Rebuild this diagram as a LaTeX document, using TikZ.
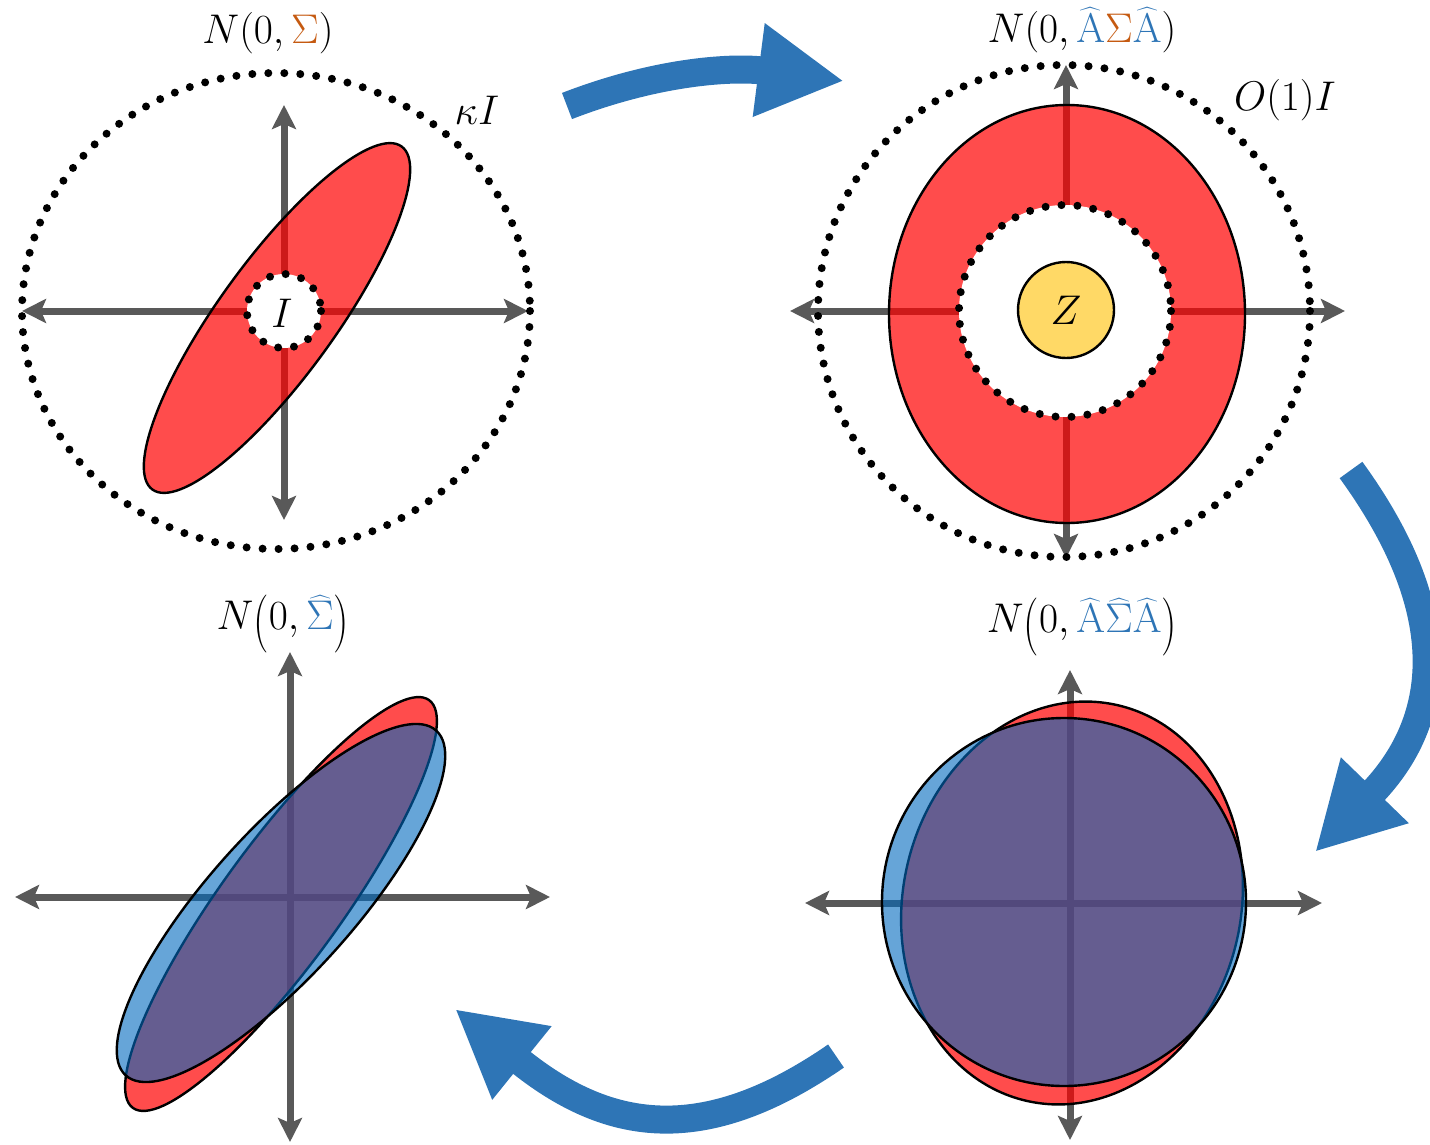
\documentclass[tikz,border=0pt]{standalone}
\usetikzlibrary{arrows.meta}
\definecolor{axisgray}{RGB}{89,89,89}
\definecolor{flowblue}{RGB}{46,117,182}
\definecolor{hatblue}{RGB}{46,117,182}
\definecolor{sigorange}{RGB}{197,90,17}
\definecolor{ellred}{RGB}{255,0,0}
\definecolor{ellblue}{RGB}{0,105,190}
\definecolor{zyellow}{RGB}{255,217,102}
\newcommand{\hA}{{\color{hatblue}\widehat{\mathrm{A}}}}
\newcommand{\tallL}{\mathopen{\raisebox{-0.2em}{\scalebox{1.05}[1.4]{$($}}}}
\newcommand{\tallR}{\mathclose{\raisebox{-0.2em}{\scalebox{1.05}[1.4]{$)$}}}}
\begin{document}
\begin{tikzpicture}[x=0.5pt,y=-0.5pt,
 axis/.style={draw=axisgray, line width=3.5pt, {Stealth[length=12pt,width=12pt,inset=2.5pt]}-{Stealth[length=12pt,width=12pt,inset=2.5pt]}},
 dotring/.style={draw=black, line width=4pt, line cap=round, dash pattern=on 0pt off 8pt},
 redell/.style={fill=ellred, fill opacity=0.7, draw=black, line width=1.2pt},
 blueell/.style={fill=ellblue, fill opacity=0.6, draw=black, line width=1.2pt},
 flow/.style={draw=flowblue, line width=14pt, -{Triangle[length=43pt,width=44pt]}},
 lbl/.style={font=\fontsize{22}{26}\selectfont, inner sep=0pt}
]
\useasboundingbox (0,0) rectangle (1430,1145);

% ---------- top-left panel ----------
\coordinate (tlL) at (22,311);  \coordinate (tlR) at (528,311);
\coordinate (tlT) at (284,105); \coordinate (tlB) at (284,520);
\draw[axis] (tlL) -- (tlR);
\draw[axis] (tlT) -- (tlB);
\draw[redell, rotate around={54:(277,318)}] (277,318) ellipse [x radius=212, y radius=58];
\fill[white] (284,311) circle [radius=37];
\draw[dotring] (284,311) circle [radius=37];
\draw[dotring] (276,311) ellipse [x radius=254, y radius=238];
\node[lbl] (tlI) at (282,313) {$I$};
\node[lbl] (tlK) at (477,110) {$\kappa I$};
\node[lbl] (tlN) at (268,33) {$N(0,{\color{sigorange}\Sigma})$};

% ---------- top-right panel ----------
\coordinate (trL) at (790,311);  \coordinate (trR) at (1345,311);
\coordinate (trT) at (1066,65);  \coordinate (trB) at (1066,558);
\draw[axis] (trL) -- (trR);
\draw[axis] (trT) -- (trB);
\draw[redell] (1067,314) ellipse [x radius=178, y radius=209];
\fill[white] (1065,311) circle [radius=106];
\draw[dotring] (1065,311) circle [radius=106];
\draw[dotring] (1064,311) circle [radius=246];
\node[circle, draw=black, line width=1.2pt, fill=zyellow, minimum size=48pt, inner sep=0pt,
      font=\fontsize{22}{26}\selectfont] (trZ) at (1066,310) {$Z$};
\node[lbl] (trO) at (1285,100) {$O(1)I$};
\node[lbl] (trN) at (1082,30) {$N(0,\hA{\color{sigorange}\Sigma}\hA)$};

% ---------- bottom-left panel ----------
\coordinate (blL) at (15,897);  \coordinate (blR) at (550,897);
\coordinate (blT) at (290,652); \coordinate (blB) at (290,1142);
\draw[axis] (blL) -- (blR);
\draw[axis] (blT) -- (blB);
\draw[redell, rotate around={54:(281,904)}] (281,904) ellipse [x radius=252, y radius=60];
\draw[blueell, rotate around={48:(281,903)}] (281,903) ellipse [x radius=232, y radius=72];
\node[lbl] (blN) at (283,624) {$N\tallL 0,{\color{hatblue}\widehat{\Sigma}}\tallR$};

% ---------- bottom-right panel ----------
\coordinate (brL) at (805,903);  \coordinate (brR) at (1322,903);
\coordinate (brT) at (1070,670); \coordinate (brB) at (1070,1140);
\draw[axis] (brL) -- (brR);
\draw[axis] (brT) -- (brB);
\draw[redell, rotate around={-13:(1072,903)}] (1072,903) ellipse [x radius=169, y radius=203];
\draw[blueell] (1064,902) ellipse [x radius=182, y radius=184];
\node[lbl] (brN) at (1082,627) {$N\tallL 0,\hA{\color{hatblue}\widehat{\Sigma}}\hA\tallR$};

% ---------- flow arrows ----------
\coordinate (f1s) at (567,106);  \coordinate (f1e) at (844,81);
\coordinate (f2s) at (1351,470); \coordinate (f2e) at (1315,852);
\coordinate (f3s) at (836,1056); \coordinate (f3e) at (455,1009);
\draw[flow] (f1s) .. controls (660,70) and (735,67) .. (f1e);
\draw[flow] (f2s) .. controls (1457,616) and (1440,723) .. (f2e);
\draw[flow] (f3s) .. controls (700,1150) and (605,1130) .. (f3e);
\end{tikzpicture}
\end{document}
